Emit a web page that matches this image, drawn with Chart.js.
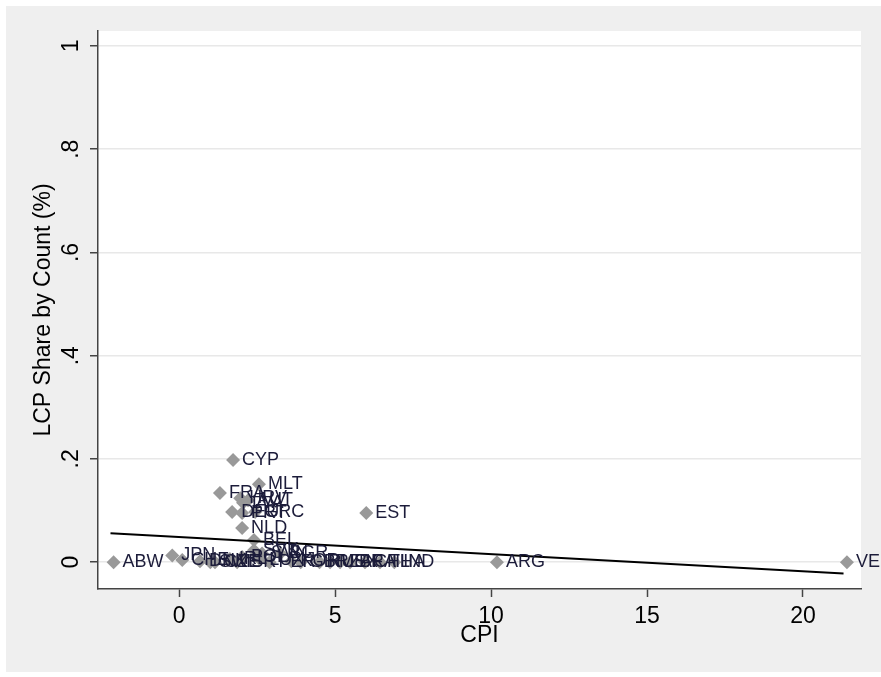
<!DOCTYPE html>
<html>
<head>
<meta charset="utf-8">
<script src="https://cdn.jsdelivr.net/npm/chart.js@4.4.1/dist/chart.umd.min.js"></script>
<style>
    body { margin: 0; background: #ffffff; }
    #lcp_chart { display: block; }
</style>
</head>
<body>
<canvas id="lcp_chart" width="881" height="677"></canvas>
<script>
// country codes, CPI inflation and LCP share
const countries = [
    'ABW', 'JPN', 'CHE', 'DNK', 'SWE', 'CZE', 'IRL', 'ISR', 'POL', 'LUX',
    'PER', 'KOR', 'GBR', 'RUS', 'MEX', 'ZAF', 'BRA', 'CHL', 'THA', 'IND',
    'ARG', 'VEN',
    'CYP', 'MLT', 'FRA', 'HRV', 'LVA', 'AUT', 'DEU', 'PRT', 'GRC', 'EST',
    'NLD', 'BEL', 'SVK', 'SVN', 'BGR'
];
const cpi = [
    -2.10, -0.22, 0.10, 0.67, 1.00, 1.15, 1.63, 1.86, 2.02, 2.60,
    2.90, 3.60, 3.90, 4.50, 4.84, 5.16, 5.48, 5.96, 6.44, 6.90,
    10.19, 21.41,
    1.73, 2.56, 1.31, 1.96, 2.05, 2.21, 1.70, 2.02, 2.44, 6.00,
    2.02, 2.40, 2.40, 2.66, 3.24
];
const lcp_share = [
    0.000, 0.013, 0.004, 0.002, 0.000, 0.000, 0.006, 0.000, 0.010, 0.005,
    0.000, 0.002, 0.000, 0.000, 0.000, 0.000, 0.000, 0.000, 0.000, 0.000,
    0.000, 0.000,
    0.198, 0.151, 0.134, 0.124, 0.115, 0.120, 0.097, 0.095, 0.097, 0.095,
    0.066, 0.043, 0.023, 0.017, 0.017
];

// linear fit line end points
const fit_x = [-2.2, 21.3];
const fit_y = [0.056, -0.022];

const x_ticks = [0, 5, 10, 15, 20];
const x_tick_labels = ['0', '5', '10', '15', '20'];
const y_ticks = [0, 0.2, 0.4, 0.6, 0.8, 1];
const y_tick_labels = ['0', '.2', '.4', '.6', '.8', '1'];

const font_family = "'Liberation Sans', Arial, sans-serif";

const background_plugin = {
    id: 'stata_background',
    beforeDraw(chart) {
        const ctx = chart.ctx;
        const area = chart.chartArea;
        ctx.save();
        ctx.fillStyle = '#efefef';
        ctx.fillRect(6, 6, chart.width - 6, chart.height - 11);
        ctx.fillStyle = '#ffffff';
        ctx.fillRect(area.left, area.top, area.right - area.left, area.bottom - area.top);
        ctx.restore();
    }
};

const label_plugin = {
    id: 'marker_labels',
    afterDatasetsDraw(chart) {
        const ctx = chart.ctx;
        const meta = chart.getDatasetMeta(1);
        ctx.save();
        ctx.font = '18px ' + font_family;
        ctx.fillStyle = '#1c1c3a';
        ctx.textAlign = 'left';
        ctx.textBaseline = 'middle';
        meta.data.forEach(function (pt, i) {
            ctx.fillText(countries[i], pt.x + 9, pt.y);
        });
        ctx.restore();
    }
};

const ctx = document.getElementById('lcp_chart');

const lcp_chart = new Chart(ctx, {
    type: 'scatter',
    data: {
        datasets: [
            {
                type: 'line',
                label: 'Fitted values',
                data: fit_x.map((x, i) => ({x: x, y: fit_y[i]})),
                borderColor: '#000000',
                borderWidth: 2,
                pointRadius: 0,
                fill: false,
            },
            {
                label: 'LCP Share by Count (%)',
                data: cpi.map((x, i) => ({x: x, y: lcp_share[i]})),
                pointStyle: 'rectRot',
                pointRadius: 7,
                backgroundColor: '#999999',
                borderWidth: 0,
                clip: false,
            }
        ]
    },
    options: {
        responsive: false,
        animation: false,
        layout: {
            padding: {left: 0, top: 31, right: 20, bottom: 0}
        },
        plugins: {
            legend: {display: false},
            tooltip: {enabled: false},
        },
        scales: {
            x: {
                type: 'linear',
                min: -2.6,
                max: 21.86,
                afterBuildTicks: function (scale) {
                    scale.ticks = x_ticks.map((v) => ({value: v}));
                },
                afterFit: function (scale) {
                    scale.height = 88;
                },
                ticks: {
                    color: '#000000',
                    padding: 6,
                    maxRotation: 0,
                    font: {family: font_family, size: 23},
                    callback: (v, i) => x_tick_labels[i],
                },
                grid: {
                    drawOnChartArea: false,
                    drawTicks: true,
                    tickLength: 8,
                    tickColor: '#444444',
                    tickWidth: 1.5,
                },
                border: {color: '#444444', width: 1.5},
                title: {
                    display: true,
                    text: 'CPI',
                    color: '#000000',
                    font: {family: font_family, size: 23},
                    padding: {top: 0, bottom: 28},
                },
            },
            y: {
                type: 'linear',
                min: -0.052,
                max: 1.029,
                afterBuildTicks: function (scale) {
                    scale.ticks = y_ticks.map((v) => ({value: v}));
                },
                afterFit: function (scale) {
                    scale.width = 98;
                },
                ticks: {
                    color: '#000000',
                    padding: 9,
                    minRotation: 90,
                    maxRotation: 90,
                    crossAlign: 'center',
                    font: {family: font_family, size: 23},
                    callback: (v, i) => y_tick_labels[i],
                },
                grid: {
                    color: '#e8e8e8',
                    lineWidth: 1.5,
                    tickLength: 8,
                    tickColor: '#444444',
                    tickWidth: 1.5,
                },
                border: {color: '#444444', width: 1.5},
                title: {
                    display: true,
                    text: 'LCP Share by Count (%)',
                    color: '#000000',
                    font: {family: font_family, size: 23},
                    padding: {top: 30, bottom: 0},
                },
            },
        },
    },
    plugins: [background_plugin, label_plugin],
});
</script>
</body>
</html>
